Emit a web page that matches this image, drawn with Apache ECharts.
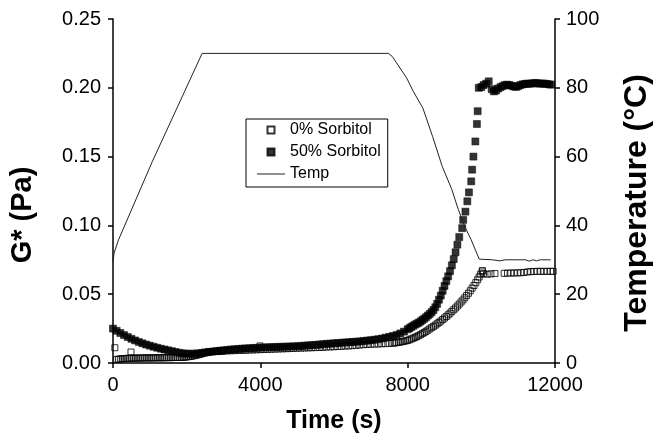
<!DOCTYPE html>
<html>
<head>
<meta charset="utf-8">
<script src="https://cdn.jsdelivr.net/npm/echarts@6/dist/echarts.min.js"></script>
<style>
  html, body { margin: 0; padding: 0; background: #fff; }
  #chart { width: 661px; height: 440px; }
</style>
</head>
<body>
<div id="chart"></div>
<script>
// [time (s), G* (Pa)]
var sorb0 = [
  [50, 0.0111], [100, 0.0026], [150, 0.0028], [200, 0.0030], [250, 0.0031], [300, 0.0032], [350, 0.0033],
  [400, 0.0034], [450, 0.0034], [488, 0.0080], [500, 0.0035], [550, 0.0035], [600, 0.0035], [650, 0.0036],
  [700, 0.0036], [750, 0.0036], [800, 0.0036], [850, 0.0037], [900, 0.0037], [950, 0.0037], [1000, 0.0037],
  [1050, 0.0037], [1100, 0.0037], [1150, 0.0038], [1200, 0.0038], [1250, 0.0038], [1300, 0.0038], [1350, 0.0038],
  [1400, 0.0038], [1450, 0.0039], [1500, 0.0039], [1550, 0.0039], [1600, 0.0039], [1650, 0.0040], [1700, 0.0040],
  [1750, 0.0040], [1800, 0.0040], [1850, 0.0041], [1900, 0.0041], [1950, 0.0042], [2000, 0.0044], [2050, 0.0046],
  [2100, 0.0048], [2150, 0.0050], [2200, 0.0053], [2250, 0.0056], [2300, 0.0059], [2350, 0.0062], [2400, 0.0066],
  [2450, 0.0070], [2500, 0.0074], [2550, 0.0077], [2600, 0.0080], [2650, 0.0082], [2700, 0.0083], [2750, 0.0084],
  [2800, 0.0085], [2850, 0.0085], [2900, 0.0086], [2950, 0.0086], [3000, 0.0087], [3100, 0.0088], [3200, 0.0089],
  [3300, 0.0090], [3400, 0.0091], [3500, 0.0092], [3600, 0.0093], [3700, 0.0094], [3800, 0.0095], [3900, 0.0096],
  [3990, 0.0124], [4000, 0.0097], [4100, 0.0098], [4200, 0.0099], [4300, 0.0100], [4400, 0.0101], [4500, 0.0102],
  [4600, 0.0103], [4700, 0.0104], [4800, 0.0105], [4900, 0.0106], [5000, 0.0107], [5100, 0.0108], [5200, 0.0109],
  [5300, 0.0110], [5400, 0.0111], [5500, 0.0112], [5600, 0.0113], [5700, 0.0114], [5800, 0.0116], [5900, 0.0117],
  [6000, 0.0118], [6100, 0.0120], [6200, 0.0121], [6300, 0.0123], [6400, 0.0124], [6500, 0.0126], [6600, 0.0128],
  [6700, 0.0131], [6800, 0.0133], [6900, 0.0135], [7000, 0.0136], [7100, 0.0137], [7200, 0.0138], [7300, 0.0140],
  [7400, 0.0141], [7500, 0.0142], [7600, 0.0144], [7650, 0.0146], [7700, 0.0148], [7750, 0.0150], [7800, 0.0153],
  [7850, 0.0155], [7900, 0.0158], [7950, 0.0161], [8000, 0.0164], [8050, 0.0169], [8100, 0.0175], [8150, 0.0180],
  [8200, 0.0186], [8250, 0.0192], [8300, 0.0199], [8350, 0.0206], [8400, 0.0214], [8450, 0.0222], [8500, 0.0230],
  [8550, 0.0239], [8600, 0.0248], [8650, 0.0257], [8700, 0.0266], [8750, 0.0275], [8800, 0.0285], [8850, 0.0295],
  [8900, 0.0305], [8950, 0.0316], [9000, 0.0327], [9050, 0.0338], [9100, 0.0350], [9150, 0.0362], [9200, 0.0375],
  [9250, 0.0387], [9300, 0.0400], [9350, 0.0414], [9400, 0.0428], [9450, 0.0443], [9500, 0.0458], [9550, 0.0474],
  [9600, 0.0490], [9650, 0.0507], [9700, 0.0525], [9750, 0.0544], [9800, 0.0563], [9850, 0.0584], [9900, 0.0605],
  [9940, 0.0625], [9980, 0.0645], [10020, 0.0662], [10030, 0.0672], [10060, 0.0650], [10160, 0.0645],
  [10260, 0.0648], [10370, 0.0650],
  [10620, 0.0652], [10710, 0.0653], [10800, 0.0654], [10890, 0.0654], [10980, 0.0655], [11070, 0.0656],
  [11160, 0.0658], [11250, 0.0662], [11340, 0.0664], [11430, 0.0665], [11520, 0.0666], [11610, 0.0666],
  [11700, 0.0666], [11790, 0.0666], [11880, 0.0666], [11950, 0.0666]
]

var sorb50 = [
  [0, 0.0250], [100, 0.0234], [200, 0.0218], [300, 0.0203], [400, 0.0189], [500, 0.0176], [600, 0.0164],
  [700, 0.0153], [800, 0.0143], [900, 0.0134], [1000, 0.0126], [1100, 0.0118], [1200, 0.0111], [1300, 0.0104],
  [1400, 0.0098], [1500, 0.0092], [1600, 0.0086], [1700, 0.0080], [1800, 0.0074], [1900, 0.0070], [2000, 0.0068],
  [2100, 0.0067], [2200, 0.0068], [2300, 0.0070], [2400, 0.0073], [2500, 0.0077], [2600, 0.0080], [2700, 0.0083],
  [2800, 0.0086], [2900, 0.0089], [3000, 0.0092], [3100, 0.0095], [3200, 0.0098], [3300, 0.0100], [3400, 0.0102],
  [3500, 0.0104], [3600, 0.0106], [3700, 0.0107], [3800, 0.0109], [3900, 0.0110], [4000, 0.0112], [4100, 0.0113],
  [4200, 0.0114], [4300, 0.0115], [4400, 0.0116], [4500, 0.0117], [4600, 0.0118], [4700, 0.0119], [4800, 0.0120],
  [4900, 0.0121], [5000, 0.0122], [5100, 0.0124], [5200, 0.0126], [5300, 0.0128], [5400, 0.0130], [5500, 0.0132],
  [5600, 0.0134], [5700, 0.0137], [5800, 0.0139], [5900, 0.0141], [6000, 0.0143], [6100, 0.0145], [6200, 0.0147],
  [6300, 0.0149], [6400, 0.0151], [6500, 0.0153], [6600, 0.0155], [6700, 0.0157], [6800, 0.0160], [6900, 0.0163],
  [7000, 0.0166], [7100, 0.0169], [7200, 0.0173], [7300, 0.0178], [7400, 0.0184], [7500, 0.0190], [7600, 0.0196],
  [7700, 0.0204], [7800, 0.0215], [7900, 0.0228], [8000, 0.0245], [8050, 0.0253], [8100, 0.0262], [8150, 0.0270],
  [8200, 0.0279], [8250, 0.0286], [8300, 0.0293], [8350, 0.0302], [8400, 0.0312], [8450, 0.0322], [8500, 0.0333],
  [8550, 0.0345], [8600, 0.0357], [8650, 0.0370], [8700, 0.0385], [8750, 0.0405], [8800, 0.0430], [8850, 0.0460],
  [8900, 0.0490], [8950, 0.0525], [9000, 0.0560], [9050, 0.0595], [9100, 0.0630], [9150, 0.0668], [9200, 0.0710],
  [9250, 0.0755], [9300, 0.0805], [9350, 0.0860], [9400, 0.0915],
  [9480, 0.0980], [9507, 0.1040], [9568, 0.1100], [9620, 0.1175], [9664, 0.1240], [9725, 0.1320], [9751, 0.1405],
  [9785, 0.1500], [9838, 0.1610], [9880, 0.1737], [9900, 0.1830], [9930, 0.2000],
  [10000, 0.2005], [10060, 0.2020], [10130, 0.2030], [10200, 0.2047], [10280, 0.1990], [10340, 0.1974],
  [10400, 0.1980], [10460, 0.1995], [10520, 0.2005], [10580, 0.2012], [10640, 0.2020], [10700, 0.2023],
  [10760, 0.2020], [10820, 0.2015], [10880, 0.2010], [10940, 0.2006], [11000, 0.2012], [11060, 0.2020],
  [11120, 0.2025], [11180, 0.2028], [11240, 0.2030], [11300, 0.2030], [11360, 0.2031], [11420, 0.2033],
  [11480, 0.2035], [11540, 0.2032], [11600, 0.2030], [11660, 0.2031], [11720, 0.2030], [11780, 0.2028],
  [11840, 0.2025], [11900, 0.2023]
]

// [time (s), temperature (°C)]
var temp = [
  [0, 29.5], [30, 32], [150, 35.8], [1065, 58.5], [2420, 90], [7480, 90], [7582, 89.1], [7975, 82.8],
  [8150, 79], [8413, 74.1], [8675, 65.9], [8937, 57.2], [9200, 50.4], [9375, 44.6], [9549, 39.7],
  [9725, 35.8], [9942, 30.2], [10300, 30], [10500, 29.7], [10650, 30], [11200, 30], [11300, 29.6],
  [11400, 30], [11500, 29.7], [11600, 30], [11880, 30]
]

var xTicks = [0, 12000, 4000]
var gTicks = [0, 0.25, 0.05]
var tTicks = [0, 100, 20]

var FONT = '"Liberation Sans", Arial, sans-serif'
var SQUARE = 'path://M0,0H10V10H0Z'
var DASH = 'path://M0,0H28V1H0Z'

var chart = echarts.init(document.getElementById('chart'))

function axisBase(nameSize) {
  return {
    type: 'value',
    axisLine: { show: true, lineStyle: { color: '#000', width: 1.5 } },
    axisTick: { show: true, inside: false, length: 5, lineStyle: { color: '#000', width: 1.5 } },
    splitLine: { show: false },
    axisLabel: { color: '#000', fontFamily: FONT, fontSize: 20, margin: 12 },
    nameLocation: 'middle',
    nameTextStyle: { color: '#000', fontFamily: FONT, fontWeight: 'bold', fontSize: nameSize }
  }
}

var xAxis = Object.assign(axisBase(25), {
  min: xTicks[0],
  max: xTicks[1],
  interval: xTicks[2],
  name: 'Time (s)',
  nameGap: 46
})
xAxis.axisLabel.formatter = function(v) { return String(v) }

var yLeft = Object.assign(axisBase(29), {
  position: 'left',
  min: gTicks[0],
  max: gTicks[1],
  interval: gTicks[2],
  name: 'G* (Pa)',
  nameGap: 76
})
yLeft.axisLabel.formatter = function(v) { return v.toFixed(2) }
yLeft.nameTextStyle.padding = [0, 48, 0, 0]

var yRight = Object.assign(axisBase(32), {
  position: 'right',
  min: tTicks[0],
  max: tTicks[1],
  interval: tTicks[2],
  name: 'Temperature (°C)',
  nameGap: 66
})
yRight.axisLabel.margin = 11
yRight.nameTextStyle.padding = [0, 24, 0, 0]

chart.setOption({
  animation: false,
  backgroundColor: '#fff',
  grid: { left: 109, right: 94, top: 19, bottom: 77, containLabel: false },
  legend: {
    orient: 'vertical',
    left: 246,
    top: 119,
    data: [
      { name: '0% Sorbitol', icon: SQUARE },
      { name: '50% Sorbitol', icon: SQUARE },
      { name: 'Temp', icon: DASH }
    ],
    itemWidth: 28,
    itemHeight: 7,
    itemGap: 6,
    symbolKeepAspect: true,
    padding: [3, 7, 5, 11],
    borderColor: '#000',
    borderWidth: 1,
    borderRadius: 0,
    textStyle: { color: '#000', fontFamily: FONT, fontSize: 16 }
  },
  xAxis: xAxis,
  yAxis: [yLeft, yRight],
  series: [
    {
      name: '50% Sorbitol',
      type: 'scatter',
      data: sorb50,
      symbol: 'rect',
      symbolSize: 7,
      itemStyle: { color: '#000', borderColor: '#000', borderWidth: 0.6 }
    },
    {
      name: '0% Sorbitol',
      type: 'scatter',
      data: sorb0,
      symbol: 'rect',
      symbolSize: 6,
      itemStyle: { color: 'rgba(255,255,255,0)', borderColor: '#000', borderWidth: 1 }
    },
    {
      name: 'Temp',
      type: 'line',
      yAxisIndex: 1,
      data: temp,
      symbol: 'none',
      lineStyle: { color: '#222', width: 1 },
      itemStyle: { color: '#222' }
    }
  ]
})
</script>
</body>
</html>
